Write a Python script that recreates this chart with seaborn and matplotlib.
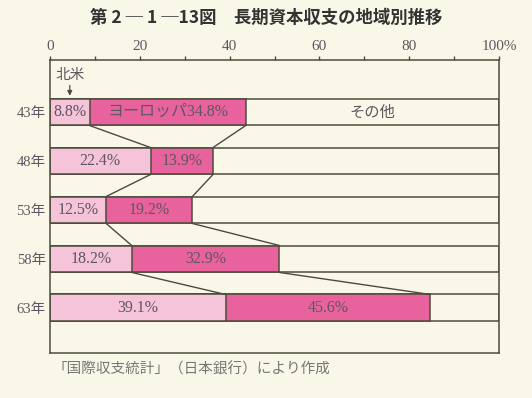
import pandas as pd
import matplotlib
matplotlib.use("Agg")
import matplotlib.pyplot as plt
import seaborn as sns

# values (share of long-term capital balance, %)
years = ["43年", "48年", "53年", "58年", "63年"]
north_america = [8.8, 22.4, 12.5, 18.2, 39.1]
europe = [34.8, 13.9, 19.2, 32.9, 45.6]
xticks = [0, 20, 40, 60, 80, 100]
xtick_labels = ["0", "20", "40", "60", "80", "100%"]

bg = "#f9f8e8"
light_pink = "#f6c4d9"
dark_pink = "#e8639d"
line_col = "#4d4b3c"
text_col = "#5e5660"
mixed = ["Liberation Serif", "Noto Sans CJK JP"]

sns.set_style("white")
plt.rcParams["font.family"] = ["Noto Sans CJK JP", "DejaVu Sans"]

df = pd.DataFrame({"year": years, "na": north_america, "eu": europe})
df["total"] = 100
df["na_eu"] = df["na"] + df["eu"]

fig = plt.figure(figsize=(5.32, 3.98), dpi=100, facecolor=bg)
ax = fig.add_axes([0.094, 0.113, 0.844, 0.736])
ax.set_facecolor(bg)

bar_h = 0.55
common = dict(y="year", orient="h", width=bar_h, saturation=1,
              edgecolor=line_col, linewidth=1.1, ax=ax)
sns.barplot(data=df, x="total", color=bg, **common)
sns.barplot(data=df, x="na_eu", color=dark_pink, **common)
sns.barplot(data=df, x="na", color=light_pink, **common)

# connectors between boundaries of consecutive bars
for i in range(len(years) - 1):
    for col in ["na", "na_eu"]:
        ax.plot([df[col][i], df[col][i + 1]],
                [i + bar_h / 2, i + 1 - bar_h / 2],
                color=line_col, lw=1.0, zorder=1)

# labels inside bars
for i in range(len(years)):
    na, eu = df["na"][i], df["eu"][i]
    ax.text(na / 2, i, f"{na:.1f}%", ha="center", va="center",
            fontsize=11.5, color=text_col, family=mixed)
    eu_label = f"ヨーロッパ{eu:.1f}%" if i == 0 else f"{eu:.1f}%"
    ax.text(na + eu / 2, i, eu_label, ha="center", va="center",
            fontsize=11.5, color=text_col, family=mixed)
ax.text((df["na_eu"][0] + 100) / 2, 0, "その他", ha="center", va="center",
        fontsize=11, color=text_col)

# 北米 pointer
ax.annotate("", xy=(north_america[0] / 2, -bar_h / 2),
            xytext=(north_america[0] / 2, -0.6),
            arrowprops=dict(arrowstyle="-|>", color=line_col, lw=0.9,
                            mutation_scale=7))
ax.text(north_america[0] / 2, -0.76, "北米", ha="center", va="center",
        fontsize=10.5, color=text_col)

ax.set_xlim(0, 100)
ax.set_ylim(4.92, -1.06)
ax.xaxis.tick_top()
ax.set_xticks(xticks)
ax.set_xticks(range(10, 100, 20), minor=True)
ax.set_xticklabels(xtick_labels, family=mixed, fontsize=11, color=text_col)
ax.tick_params(axis="x", which="both", direction="out", length=3,
               width=1, color=line_col, pad=2)
ax.tick_params(axis="y", length=0, pad=3)
ax.set_yticks(range(len(years)))
ax.set_yticklabels(years, family=mixed, fontsize=10.5, color=text_col)
ax.set_xlabel("")
ax.set_ylabel("")
for s in ax.spines.values():
    s.set_visible(True)
    s.set_color(line_col)
    s.set_linewidth(1.1)

fig.text(0.5, 0.955, "第 2 ─ 1 ─13図　長期資本収支の地域別推移",
         ha="center", va="center", fontsize=12.5, fontweight="bold",
         color="#333333")
fig.text(0.098, 0.073, "「国際収支統計」（日本銀行）により作成",
         ha="left", va="center", fontsize=10.5, color="#777777")

fig.savefig("out.png", dpi=100, facecolor=bg)
